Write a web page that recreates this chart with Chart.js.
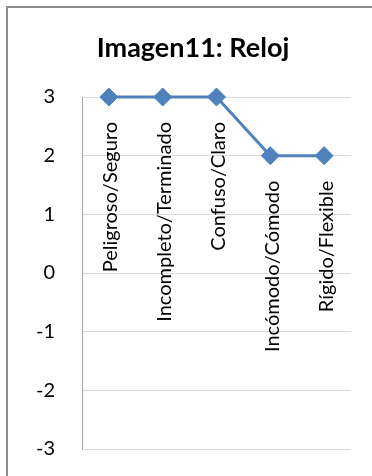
<!DOCTYPE html>
<html>
<head>
<meta charset="utf-8">
<style>
  html, body { margin: 0; padding: 0; background: #ffffff; }
  #wrap { width: 372px; height: 476px; position: relative; }
</style>
<script src="https://cdn.jsdelivr.net/npm/chart.js@4/dist/chart.umd.min.js"></script>
</head>
<body>
<div id="wrap"><canvas id="c" width="372" height="476"></canvas></div>
<script>
// Semantic-differential pairs and their scores for the clock image
const categories = ['Peligroso/Seguro', 'Incompleto/Terminado', 'Confuso/Claro', 'Incómodo/Cómodo', 'Rígido/Flexible'];
const scores = [3, 3, 3, 2, 2];
const yTicks = [-3, -2, -1, 0, 1, 2, 3];
const chartTitle = 'Imagen11: Reloj';

const FONT = 'Lato, "Noto Sans", sans-serif';
const LINE_BLUE = '#4F81BD';

// Frame around the chart area (only the top and left edges fall inside the canvas)
const framePlugin = {
  id: 'frame',
  beforeDraw(chart) {
    const ctx = chart.ctx;
    ctx.save();
    ctx.fillStyle = '#ffffff';
    ctx.fillRect(0, 0, chart.width, chart.height);
    ctx.strokeStyle = '#8c8c8c';
    ctx.lineWidth = 2;
    ctx.strokeRect(7, 7, chart.width + 20, chart.height + 20);
    ctx.restore();
  }
};

// Category names written vertically just below each marker
const pointNamePlugin = {
  id: 'pointNames',
  afterDatasetsDraw(chart) {
    const ctx = chart.ctx;
    const meta = chart.getDatasetMeta(0);
    ctx.save();
    ctx.font = '20px ' + FONT;
    ctx.fillStyle = '#000000';
    ctx.textAlign = 'right';
    ctx.textBaseline = 'middle';
    meta.data.forEach((pt, i) => {
      ctx.save();
      ctx.translate(pt.x + 2, pt.y + 25);
      ctx.rotate(-Math.PI / 2);
      ctx.fillText(categories[i], 0, 0);
      ctx.restore();
    });
    ctx.restore();
  }
};

new Chart(document.getElementById('c'), {
  type: 'line',
  data: {
    labels: categories,
    datasets: [{
      data: scores,
      borderColor: LINE_BLUE,
      backgroundColor: LINE_BLUE,
      borderWidth: 3,
      pointStyle: 'rectRot',
      pointRadius: 9,
      pointBorderWidth: 1,
      pointBorderColor: LINE_BLUE,
      pointBackgroundColor: LINE_BLUE,
      tension: 0,
      clip: false
    }]
  },
  options: {
    responsive: false,
    animation: false,
    layout: { padding: { top: 0, left: 35, right: 21, bottom: 27 } },
    plugins: {
      legend: { display: false },
      tooltip: { enabled: false },
      title: {
        display: true,
        text: chartTitle,
        color: '#000000',
        font: { family: FONT, size: 27, weight: 'bold' },
        padding: { top: 32, bottom: 32.6 }
      }
    },
    scales: {
      x: {
        type: 'category',
        offset: true,
        display: false
      },
      y: {
        min: -3,
        max: 3,
        afterFit(scale) {
          scale.width = 47;
          scale.paddingTop = 12;
          scale.paddingBottom = 12;
        },
        afterBuildTicks(scale) { scale.ticks = yTicks.map(v => ({ value: v })); },
        grid: { color: '#d9d9d9', lineWidth: 1, drawTicks: false },
        border: { color: '#a6a6a6', width: 1 },
        ticks: {
          padding: 27,
          color: '#000000',
          font: { family: FONT, size: 20 }
        }
      }
    }
  },
  plugins: [framePlugin, pointNamePlugin]
});
</script>
</body>
</html>
